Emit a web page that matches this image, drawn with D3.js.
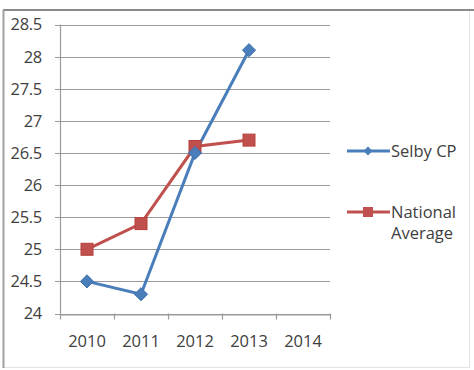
<!DOCTYPE html>
<html>
<head>
<meta charset="utf-8">
<script src="https://cdn.jsdelivr.net/npm/d3@7"></script>
<style>
  body { margin: 0; background: #fff; }
  text { font-family: "Open Sans", "Liberation Sans", sans-serif; fill: #404040; }
</style>
</head>
<body>
<div></div>
<script>
const width = 474;
const height = 370;

const years = ["2010", "2011", "2012", "2013", "2014"];
const yTicks = [24, 24.5, 25, 25.5, 26, 26.5, 27, 27.5, 28, 28.5];
const selbyYears = ["2010", "2011", "2012", "2013"];
const selbyValues = [24.5, 24.3, 26.5, 28.1];
const nationalYears = ["2010", "2011", "2012", "2013"];
const nationalValues = [25.0, 25.4, 26.6, 26.7];
const seriesNames = ["Selby CP", "National Average"];

const fontSize = 16.5;

const svg = d3.select("div").append("svg")
  .attr("width", width)
  .attr("height", height);

// frame of the chart area
svg.append("rect")
  .attr("x", 3.5).attr("y", 10.5)
  .attr("width", 466).attr("height", 357)
  .attr("fill", "none")
  .attr("stroke", "#e4e4e4");
svg.append("line")
  .attr("x1", 3).attr("x2", width).attr("y1", 10).attr("y2", 10)
  .attr("stroke", "#8a8a8a").attr("stroke-width", 2);
svg.append("line")
  .attr("x1", 3.5).attr("x2", 3.5).attr("y1", 10).attr("y2", 368)
  .attr("stroke", "#a0a0a0").attr("stroke-width", 2);

const xScale = d3.scaleBand()
  .domain(years)
  .range([60, 330]);

const yScale = d3.scaleLinear()
  .domain([24, 28.5])
  .range([313.5, 24.5]);

// gridlines
svg.append("g")
  .selectAll("line")
  .data(yTicks)
  .enter()
  .append("line")
  .attr("x1", 55)
  .attr("x2", 330)
  .attr("y1", d => Math.round(yScale(d)) + 0.5)
  .attr("y2", d => Math.round(yScale(d)) + 0.5)
  .attr("stroke", "#9a9a9a")
  .attr("stroke-width", 1.2);

// y axis labels
svg.append("g")
  .selectAll("text")
  .data(yTicks)
  .enter()
  .append("text")
  .attr("x", 42)
  .attr("y", d => yScale(d))
  .attr("dy", "0.36em")
  .attr("text-anchor", "end")
  .attr("font-size", fontSize)
  .attr("letter-spacing", -0.3)
  .text(d => d);

// y axis line
svg.append("line")
  .attr("x1", 60.5).attr("x2", 60.5)
  .attr("y1", yScale(28.5)).attr("y2", yScale(24))
  .attr("stroke", "#9a9a9a").attr("stroke-width", 1.2);

// x axis
const xAxis = d3.axisBottom(xScale).tickSize(0).tickPadding(21);
const gx = svg.append("g")
  .attr("transform", "translate(0," + (Math.round(yScale(24)) + 0.5) + ")")
  .call(xAxis);
gx.select(".domain").attr("stroke", "#9a9a9a").attr("stroke-width", 1.2);
gx.selectAll("text")
  .attr("font-size", fontSize)
  .attr("font-family", "Open Sans, Liberation Sans, sans-serif")
  .attr("fill", "#404040");

// tick marks between categories
svg.append("g")
  .selectAll("line")
  .data(years.concat(["end"]))
  .enter()
  .append("line")
  .attr("x1", (d, i) => Math.round(60 + i * xScale.bandwidth()) + 0.5)
  .attr("x2", (d, i) => Math.round(60 + i * xScale.bandwidth()) + 0.5)
  .attr("y1", yScale(24))
  .attr("y2", yScale(24) + 6)
  .attr("stroke", "#9a9a9a")
  .attr("stroke-width", 1.2);

const cx = d => xScale(d) + xScale.bandwidth() / 2;

const line = d3.line()
  .x(d => cx(d[0]))
  .y(d => yScale(d[1]));

const selby = selbyYears.map((y, i) => [y, selbyValues[i]]);
const national = nationalYears.map((y, i) => [y, nationalValues[i]]);

const blue = "#4a7ebb";
const red = "#c0504d";

svg.append("path")
  .datum(national)
  .attr("d", line)
  .attr("fill", "none")
  .attr("stroke", red)
  .attr("stroke-width", 3);

svg.append("path")
  .datum(selby)
  .attr("d", line)
  .attr("fill", "none")
  .attr("stroke", blue)
  .attr("stroke-width", 3);

svg.append("g")
  .selectAll("rect")
  .data(national)
  .enter()
  .append("rect")
  .attr("x", d => cx(d[0]) - 6)
  .attr("y", d => yScale(d[1]) - 6)
  .attr("width", 12)
  .attr("height", 12)
  .attr("fill", red)
  .attr("stroke", "#b8403d");

const diamond = d3.symbol().type(d3.symbolDiamond2).size(110);
svg.append("g")
  .selectAll("path")
  .data(selby)
  .enter()
  .append("path")
  .attr("d", diamond)
  .attr("transform", d => "translate(" + cx(d[0]) + "," + yScale(d[1]) + ")")
  .attr("fill", blue)
  .attr("stroke", "#3f70ac");

// legend
const legend = svg.append("g");
legend.append("line")
  .attr("x1", 347).attr("x2", 390).attr("y1", 151).attr("y2", 151)
  .attr("stroke", blue).attr("stroke-width", 3);
legend.append("path")
  .attr("d", d3.symbol().type(d3.symbolDiamond2).size(50))
  .attr("transform", "translate(368,151)")
  .attr("fill", blue);
legend.append("text")
  .attr("x", 391).attr("y", 151).attr("dy", "0.36em")
  .attr("font-size", fontSize)
  .text(seriesNames[0]);

legend.append("line")
  .attr("x1", 347).attr("x2", 390).attr("y1", 212).attr("y2", 212)
  .attr("stroke", red).attr("stroke-width", 3);
legend.append("rect")
  .attr("x", 363).attr("y", 207).attr("width", 10).attr("height", 10)
  .attr("fill", red);
const words = seriesNames[1].split(" ");
legend.append("text")
  .attr("x", 391).attr("y", 212).attr("dy", "0.36em")
  .attr("font-size", fontSize)
  .text(words[0]);
legend.append("text")
  .attr("x", 391).attr("y", 233).attr("dy", "0.36em")
  .attr("font-size", fontSize)
  .text(words[1]);
</script>
</body>
</html>
